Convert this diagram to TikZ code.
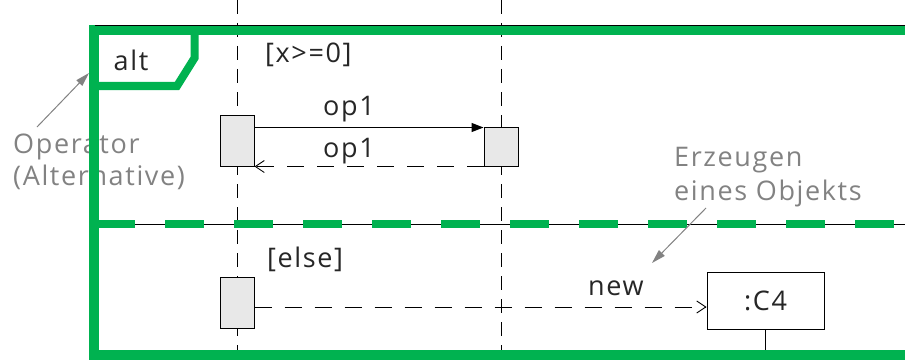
\documentclass[tikz,border=0pt]{standalone}
\usepackage{fontspec}
\setmainfont{Open Sans}[LetterSpace=6]
\usetikzlibrary{arrows.meta}
\definecolor{umlgreen}{RGB}{0,178,80}
\definecolor{annot}{RGB}{130,130,130}
\definecolor{actfill}{RGB}{232,232,232}
\begin{document}
\begin{tikzpicture}[x=1pt,y=-1pt,
  lifeline/.style={draw=black, line width=1pt, dash pattern=on 14pt off 9pt},
  actbox/.style={draw=black, fill=actfill, line width=1pt, minimum width=34pt, inner sep=0pt},
  call/.style={draw, line width=1.3pt, -{Triangle[length=12pt,width=9pt]}},
  reply/.style={draw, line width=0.9pt, dash pattern=on 17pt off 13pt, -{Straight Barb[length=9pt,width=12pt]}},
  lbl/.style={font=\fontsize{27}{31}\selectfont, text=black!85, inner sep=0pt},
  note/.style={font=\fontsize{27}{31}\selectfont, text=annot, inner sep=0pt, anchor=base west},
  notearrow/.style={draw=annot, line width=1pt, -{Triangle[length=14pt,width=8pt]}},
  frame/.style={draw=umlgreen, line width=10pt},
]
\useasboundingbox (0,0) rectangle (905,361);
\clip (0,0) rectangle (905,361);
% annotations (drawn first: the frame covers them)
\node[note] (opn1) at (13,153) {Operator};
\node[note] (opn2) at (13,185) {(Alternative)};
\coordinate (oa0) at (37,127); \coordinate (oa1) at (89,73);
\draw[notearrow] (oa0) -- (oa1);
% lifelines
\coordinate (l1t) at (237,0); \coordinate (l1b) at (237,350);
\coordinate (l2t) at (501,0); \coordinate (l2b) at (501,350);
\draw[lifeline] (l1t) -- (l1b);
\draw[lifeline] (l2t) -- (l2b);
% operand separator (thin part)
\coordinate (s0) at (99,224); \coordinate (s1) at (905,224);
\draw[line width=0.8pt, dash pattern=on 55pt off 14pt, dash phase=-36pt] (s0) -- (s1);
% frame
\coordinate (f0) at (94,30); \coordinate (f1) at (940,355);
\draw[frame] (f0) rectangle (f1);
\coordinate (t0) at (95,25.5); \coordinate (t1) at (905,25.5);
\draw[line width=0.8pt] (t0) -- (t1);
% operator pentagon
\coordinate (p0) at (94,86); \coordinate (p1) at (177,86);
\coordinate (p2) at (194.5,58); \coordinate (p3) at (194.5,30);
\draw[umlgreen, line width=8pt, line join=miter] (p0) -- (p1) -- (p2) -- (p3);
\node[lbl] (alt) at (131,60) {alt};
% green separator
\coordinate (g0) at (96,224);
\draw[umlgreen, line width=8pt, dash pattern=on 39pt off 30pt] (g0) -- (s1);
% activations
\node[actbox, minimum height=51pt] (a1) at (237,140.5) {};
\node[actbox, minimum height=39pt] (a2) at (501,146.5) {};
\node[actbox, minimum height=51pt] (a3) at (237,302.5) {};
% object C4
\node[draw, line width=1pt, fill=white, minimum width=117pt, minimum height=57pt, lbl] (c4) at (765.5,300.5) {:C4};
\coordinate (l3b) at (765.5,350);
\draw[line width=1pt] (c4.south) -- (l3b);
% messages
\draw[call] ([yshift=-13pt]a1.north east) -- ([yshift=-1pt]a2.north west);
\draw[reply] (a2.south west) -- (a1.south east);
\coordinate (n0) at ([yshift=-4.5pt]a3.east);
\draw[reply] (n0) -- (n0 -| c4.west);
% labels
\node[lbl, anchor=base] (m1) at (349,115) {op1};
\node[lbl, anchor=base] (m2) at (349,157) {op1};
\node[lbl, anchor=base west] (gd1) at (265,63) {[x>=0]};
\node[lbl, anchor=base west] (gd2) at (267,267) {[else]};
\node[lbl, anchor=base west] (m3) at (588,295) {new};
% creation note
\node[note] (cr1) at (674,166) {Erzeugen};
\node[note] (cr2) at (674,200) {eines Objekts};
\coordinate (ca0) at (706,208); \coordinate (ca1) at (652,263);
\draw[notearrow] (ca0) -- (ca1);
\end{tikzpicture}
\end{document}
